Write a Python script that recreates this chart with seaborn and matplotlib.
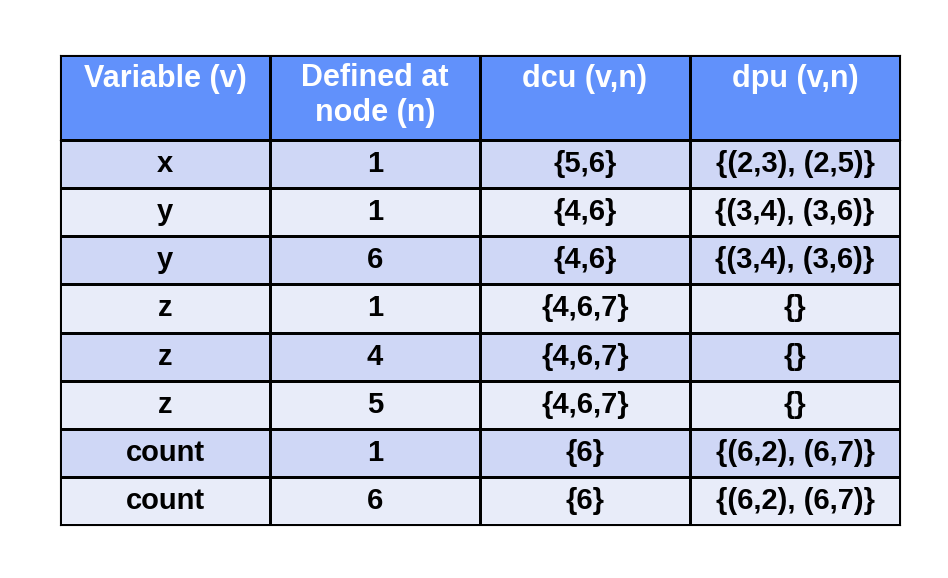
import numpy as np
import matplotlib
matplotlib.use("Agg")
import matplotlib.pyplot as plt
from matplotlib.colors import ListedColormap
import seaborn as sns

headers = ["Variable (v)", "Defined at\nnode (n)", "dcu (v,n)", "dpu (v,n)"]
variables = ["x", "y", "y", "z", "z", "z", "count", "count"]
nodes = ["1", "1", "6", "1", "4", "5", "1", "6"]
dcu = ["{5,6}", "{4,6}", "{4,6}", "{4,6,7}", "{4,6,7}", "{4,6,7}", "{6}", "{6}"]
dpu = ["{(2,3), (2,5)}", "{(3,4), (3,6)}", "{(3,4), (3,6)}", "{}", "{}", "{}",
       "{(6,2), (6,7)}", "{(6,2), (6,7)}"]

sns.set_theme(style="white")
plt.rcParams['font.family'] = ['Liberation Sans', 'DejaVu Sans']

W, H = 948, 578
fig = plt.figure(figsize=(W/100, H/100), dpi=100)
fig.patch.set_facecolor("white")

def ax_px(x0, y0, x1, y1):
    return fig.add_axes([x0/W, 1 - y1/H, (x1-x0)/W, (y1-y0)/H])

ax = ax_px(60, 140, 900, 525)
shade = np.array([[i % 2] * 4 for i in range(len(variables))])
annot = np.array([[v, n, c, d] for v, n, c, d in zip(variables, nodes, dcu, dpu)])
sns.heatmap(shade, ax=ax, cmap=ListedColormap(["#cfd7f6", "#e8ecf9"]), cbar=False,
            annot=annot, fmt="", linewidths=0.8, linecolor="black",
            annot_kws=dict(color="black", fontsize=21, fontweight="bold"),
            xticklabels=False, yticklabels=False)
for s in ax.spines.values():
    s.set_visible(True); s.set_color("black"); s.set_linewidth(0.8)

axh = ax_px(60, 55, 900, 140)
sns.heatmap(np.zeros((1, 4)), ax=axh, cmap=ListedColormap(["#6191fb"]), cbar=False,
            linewidths=0.8, linecolor="black", xticklabels=False, yticklabels=False)
for j, h in enumerate(headers):
    axh.text(j + 0.5, 0.1, h, ha="center", va="top", color="white",
             fontsize=22, fontweight="bold", linespacing=1.2)
for s in axh.spines.values():
    s.set_visible(True); s.set_color("black"); s.set_linewidth(0.8)

fig.savefig("out.png", dpi=100)
